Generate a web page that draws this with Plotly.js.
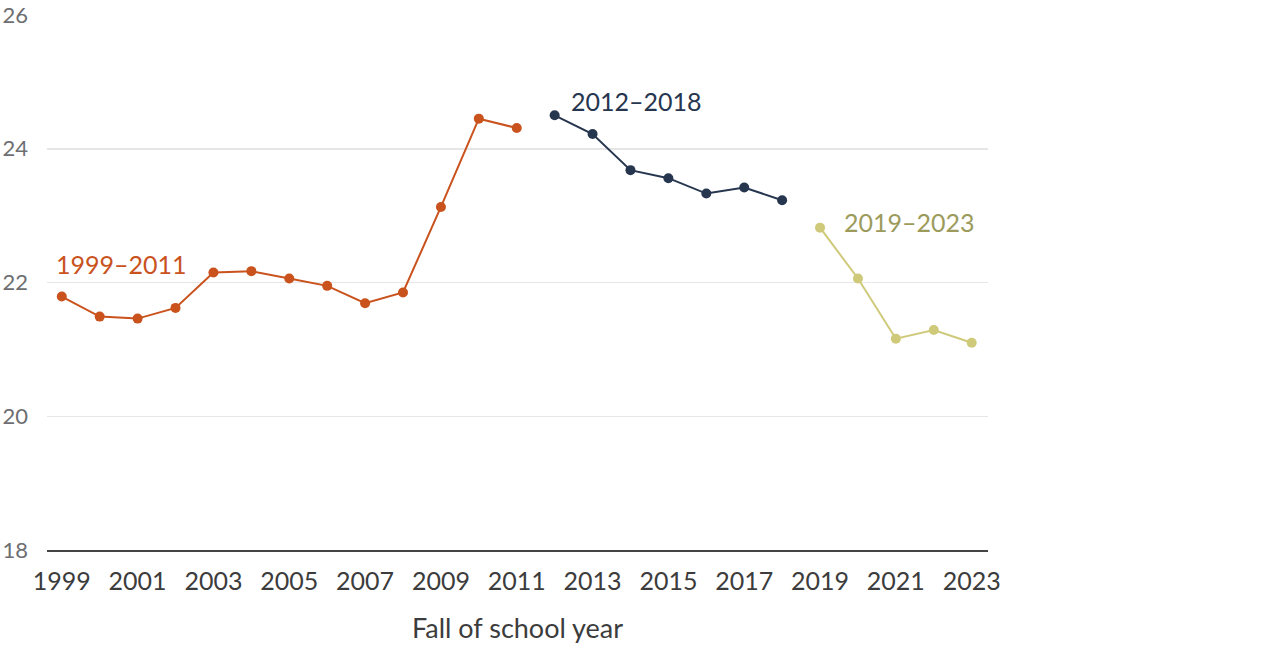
<!DOCTYPE html>
<html>
<head>
<meta charset="utf-8">
<script src="https://cdn.plot.ly/plotly-3.0.1.min.js"></script>
<style>
  html, body { margin: 0; padding: 0; background: #fff; }
  #chart { width: 1280px; height: 648px; }
</style>
</head>
<body>
<div id="chart"></div>
<script>
// Values by fall of school year, split into three periods
const years1 = [1999, 2000, 2001, 2002, 2003, 2004, 2005, 2006, 2007, 2008, 2009, 2010, 2011];
const values1 = [21.79, 21.49, 21.46, 21.62, 22.15, 22.17, 22.06, 21.95, 21.69, 21.85, 23.13, 24.45, 24.31];

const years2 = [2012, 2013, 2014, 2015, 2016, 2017, 2018];
const values2 = [24.50, 24.22, 23.68, 23.56, 23.33, 23.42, 23.23];

const years3 = [2019, 2020, 2021, 2022, 2023];
const values3 = [22.82, 22.06, 21.16, 21.29, 21.10];

const periodLabels = ['1999–2011', '2012–2018', '2019–2023'];
const xTicks = [1999, 2001, 2003, 2005, 2007, 2009, 2011, 2013, 2015, 2017, 2019, 2021, 2023];
const yTicks = [18, 20, 22, 24, 26];

const FONT = 'Lato, "Open Sans", sans-serif';
const lineColors = ['#c9521d', '#27364f', '#cfc97a'];
const labelColors = ['#c9521d', '#27364f', '#9c9b5c'];

function series(x, y, color) {
  return {
    x: x, y: y, type: 'scatter', mode: 'lines+markers',
    line: { color: color, width: 2 },
    marker: { color: color, size: 10 },
    hoverinfo: 'x+y', showlegend: false
  };
}

const data = [
  series(years1, values1, lineColors[0]),
  series(years2, values2, lineColors[1]),
  series(years3, values3, lineColors[2])
];

const layout = {
  width: 1280, height: 648,
  margin: { l: 47, r: 292, t: 15, b: 98 },
  paper_bgcolor: '#fff', plot_bgcolor: '#fff',
  font: { family: FONT, size: 25, color: '#3c3c3c' },
  xaxis: {
    range: [1998.61, 2023.43],
    tickvals: xTicks, ticktext: xTicks.map(String),
    showgrid: false, zeroline: false,
    showline: true, linecolor: '#444', linewidth: 2,
    ticks: '', ticklabelstandoff: 8,
    tickfont: { family: FONT, size: 25, color: '#3c3c3c' },
    title: { text: 'Fall of school year', font: { family: FONT, size: 27, color: '#3c3c3c' }, standoff: 25 }
  },
  yaxis: {
    range: [18, 26],
    tickvals: yTicks, ticktext: yTicks.map(String),
    showgrid: true, gridcolor: '#e6e6e6', gridwidth: 1.5,
    zeroline: false, showline: false,
    ticks: '', ticklabelstandoff: 18,
    tickfont: { family: FONT, size: 22, color: '#6d6e71' }
  },
  annotations: [
    { x: 1998.80, y: 22.28, text: periodLabels[0], font: { color: labelColors[0] } },
    { x: 2012.37, y: 24.72, text: periodLabels[1], font: { color: labelColors[1] } },
    { x: 2019.58, y: 22.90, text: periodLabels[2], font: { color: labelColors[2] } }
  ].map(a => Object.assign(a, {
    xref: 'x', yref: 'y', xanchor: 'left', yanchor: 'middle', showarrow: false,
    font: Object.assign({ family: FONT, size: 25 }, a.font)
  }))
};

Plotly.newPlot('chart', data, layout, { displayModeBar: false, staticPlot: true });
</script>
</body>
</html>
